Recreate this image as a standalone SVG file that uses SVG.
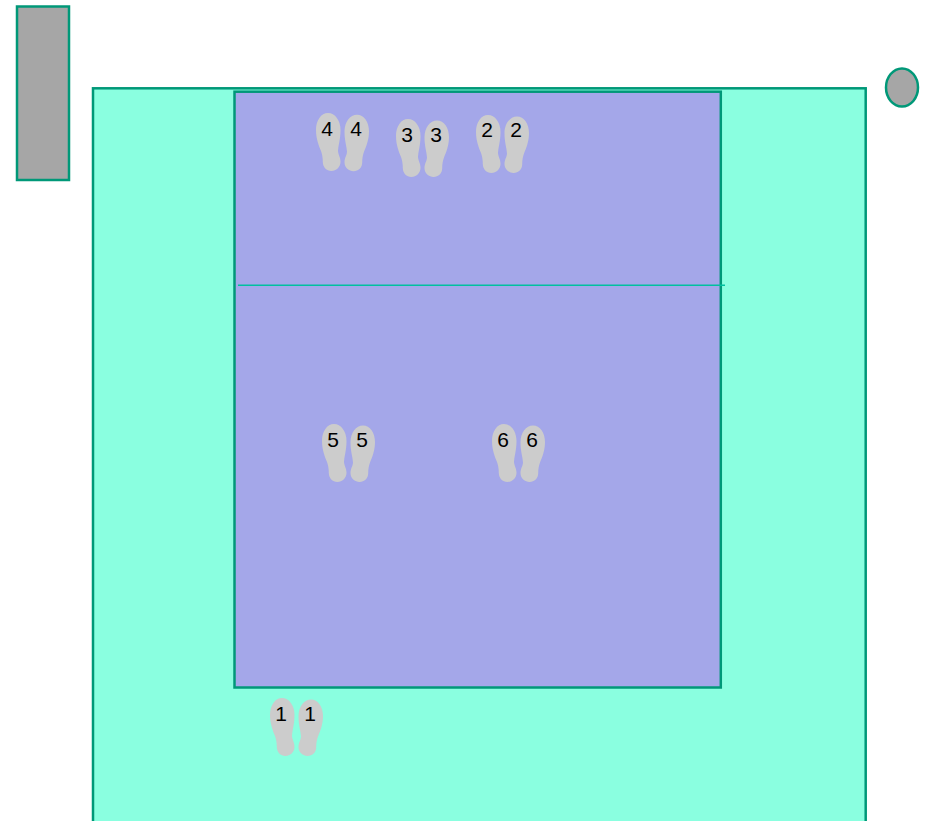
<svg xmlns="http://www.w3.org/2000/svg" width="926" height="821" viewBox="0 0 926 821">
<style>
.b{stroke:#009878;stroke-width:2.5}
.shoe{fill:#cccccc}
text{font-family:"Liberation Sans",Arial,sans-serif;font-size:21px;fill:#000;text-anchor:middle}
</style>
<defs>
<path id="L" d="M12 0C19 0 24.500 7.500 24.500 17C24.500 26 22.500 31 22 38C22.300 42 24.500 44 24.500 49C24.500 54 20 58 15.500 58C10.500 58 6.800 54 6.800 49C6.800 44 6 41 5 38C3 33 0 26 0 17C0 7.500 5 0 12 0Z"/>
<path id="R" d="M12.500 0C5.500 0 0 7.300 0 16.500C0 25.500 2 30.500 2.500 37C2.200 41 0 43 0 47.800C0 52.700 4.500 56.500 9 56.500C14 56.500 17.700 52.700 17.700 47.800C17.700 43 18.500 40 19.500 37C21.500 32 24.500 25.500 24.500 16.500C24.500 7.300 19.500 0 12.500 0Z"/>
</defs>
<rect width="926" height="821" fill="#fff"/>
<g id="outer-area"><rect class="b" x="93" y="88.300" width="772.700" height="760" fill="#8affe0"/></g>
<g id="court"><rect class="b" x="234.500" y="91.700" width="486.300" height="595.800" fill="#a4a7e9"/></g>
<g id="side-bench"><rect class="b" x="17" y="6.500" width="52" height="173.500" fill="#a6a6a6"/></g>
<g id="referee"><ellipse class="b" cx="902" cy="87.500" rx="16" ry="19" fill="#a6a6a6"/></g>
<g id="connectors"><line x1="238" y1="285.300" x2="725" y2="285.300" stroke="#00c0a0" stroke-width="1.500"/></g>
<g id="p4"><use class="shoe" href="#L" x="316" y="113"/><use class="shoe" href="#R" x="344.500" y="114.700"/><text x="327.200" y="135.500">4</text><text x="356" y="135.500">4</text></g>
<g id="p3"><use class="shoe" href="#L" x="396" y="119"/><use class="shoe" href="#R" x="424.500" y="120.500"/><text x="407" y="142">3</text><text x="436" y="142">3</text></g>
<g id="p2"><use class="shoe" href="#L" x="476" y="115"/><use class="shoe" href="#R" x="504.500" y="116.500"/><text x="487" y="137">2</text><text x="516" y="137">2</text></g>
<g id="p5"><use class="shoe" href="#L" x="322" y="424"/><use class="shoe" href="#R" x="350.500" y="425.500"/><text x="333" y="447">5</text><text x="362" y="447">5</text></g>
<g id="p6"><use class="shoe" href="#L" x="492" y="424"/><use class="shoe" href="#R" x="520.500" y="425.500"/><text x="503" y="447">6</text><text x="532" y="447">6</text></g>
<g id="p1"><use class="shoe" href="#L" x="270" y="698"/><use class="shoe" href="#R" x="298.500" y="699.500"/><text x="281" y="720.500">1</text><text x="310" y="720.500">1</text></g>
</svg>
